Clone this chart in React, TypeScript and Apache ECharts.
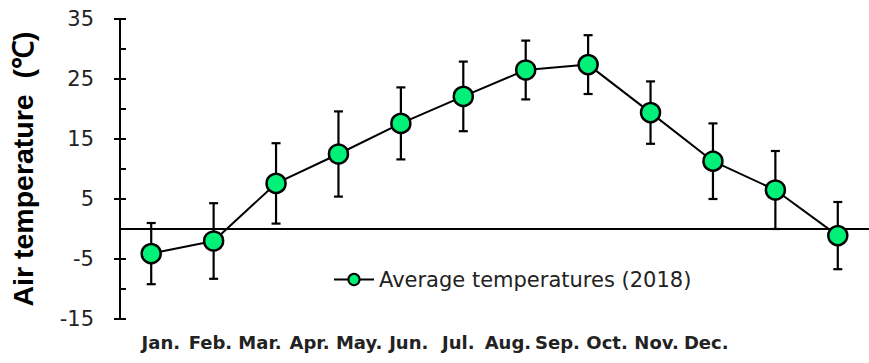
import React, { useEffect, useRef } from "react";
import * as echarts from "echarts";

const months = ["Jan.", "Feb.", "Mar.", "Apr.", "May.", "Jun.", "Jul.", "Aug.", "Sep.", "Oct.", "Nov.", "Dec."];
const avgTemp = [-4.1, -2.0, 7.6, 12.5, 17.6, 22.1, 26.5, 27.4, 19.4, 11.3, 6.5, -1.1];
const tempErr = [5.1, 6.3, 6.7, 7.1, 6.0, 5.8, 4.9, 4.9, 5.2, 6.3, 6.5, 5.6];
const yTickLabels = ["-15", "-5", "5", "15", "25", "35"];
const seriesName = "Average temperatures (2018)";
const yAxisName = "Air temperature  (℃)";

export default function App() {
  const ref = useRef<HTMLDivElement>(null);
  useEffect(() => {
    if (!ref.current) return;
    const chart = echarts.init(ref.current, undefined, { renderer: "svg" });
    const errData = months.map((m, i) => [i, avgTemp[i], tempErr[i]]);
    chart.setOption({
      animation: false,
      backgroundColor: "#fff",
      grid: [
        { left: 118, top: 19, width: 759, height: 300 },
        { left: 136, top: 318, width: 595, height: 1 },
      ],
      legend: {
        data: [seriesName],
        left: 333,
        top: 269,
        padding: 0,
        itemWidth: 40,
        itemHeight: 14,
        textStyle: { fontFamily: "DejaVu Sans", fontSize: 21, color: "#222" },
      },
      xAxis: [
        {
          type: "category",
          gridIndex: 0,
          data: months,
          boundaryGap: true,
          axisLine: { onZero: true, onZeroAxisIndex: 0, lineStyle: { color: "#000", width: 2 } },
          axisTick: { show: false },
          axisLabel: { show: false },
          splitLine: { show: false },
        },
        {
          type: "category",
          gridIndex: 1,
          data: months,
          position: "bottom",
          axisLine: { show: false },
          axisTick: { show: false },
          axisLabel: {
            interval: 0,
            margin: 14,
            fontFamily: "DejaVu Sans",
            fontWeight: "bold",
            fontSize: 18,
            color: "#222",
          },
          splitLine: { show: false },
        },
      ],
      yAxis: [
        {
          type: "value",
          gridIndex: 0,
          min: -15,
          max: 35,
          interval: 5,
          name: yAxisName,
          nameLocation: "middle",
          nameRotate: 90,
          nameGap: 83,
          nameTextStyle: { fontFamily: "Liberation Sans", fontWeight: "bold", fontSize: 28.5, color: "#000" },
          axisLine: { show: true, lineStyle: { color: "#000", width: 2 } },
          axisTick: { show: true, inside: true, length: 6, lineStyle: { color: "#000", width: 2 } },
          axisLabel: {
            margin: 26,
            fontFamily: "DejaVu Sans",
            fontSize: 21,
            color: "#222",
            formatter: (v: number) => (yTickLabels.includes(String(v)) ? String(v) : ""),
          },
          splitLine: { show: false },
        },
        {
          type: "value",
          gridIndex: 0,
          position: "left",
          min: -15,
          max: 35,
          interval: 10,
          axisLine: { show: false },
          axisTick: { show: true, inside: false, length: 6, lineStyle: { color: "#000", width: 2 } },
          axisLabel: { show: false },
          splitLine: { show: false },
        },
        { type: "value", gridIndex: 1, show: false },
      ],
      series: [
        {
          type: "custom",
          name: "err",
          xAxisIndex: 0,
          yAxisIndex: 0,
          z: 1,
          encode: { x: 0, y: 1 },
          data: errData,
          renderItem: (params: any, api: any) => {
            const x = api.value(0);
            const y = api.value(1);
            const e = api.value(2);
            const top = api.coord([x, y + e]);
            const bot = api.coord([x, y - e]);
            const hw = 4.5;
            const st = { stroke: "#000", lineWidth: 2.2 };
            return {
              type: "group",
              children: [
                { type: "line", shape: { x1: top[0], y1: top[1], x2: bot[0], y2: bot[1] }, style: st },
                { type: "line", shape: { x1: top[0] - hw, y1: top[1], x2: top[0] + hw, y2: top[1] }, style: st },
                { type: "line", shape: { x1: bot[0] - hw, y1: bot[1], x2: bot[0] + hw, y2: bot[1] }, style: st },
              ],
            };
          },
        },
        {
          type: "line",
          name: seriesName,
          xAxisIndex: 0,
          yAxisIndex: 0,
          z: 3,
          data: avgTemp,
          symbol: "circle",
          symbolSize: 19,
          itemStyle: { color: "#00F078", borderColor: "#000", borderWidth: 2.5 },
          lineStyle: { color: "#000", width: 2 },
        },
      ],
    });
    return () => chart.dispose();
  }, []);
  return <div ref={ref} style={{ position: "fixed", left: 0, top: 0, width: 869, height: 363 }} />;
}
